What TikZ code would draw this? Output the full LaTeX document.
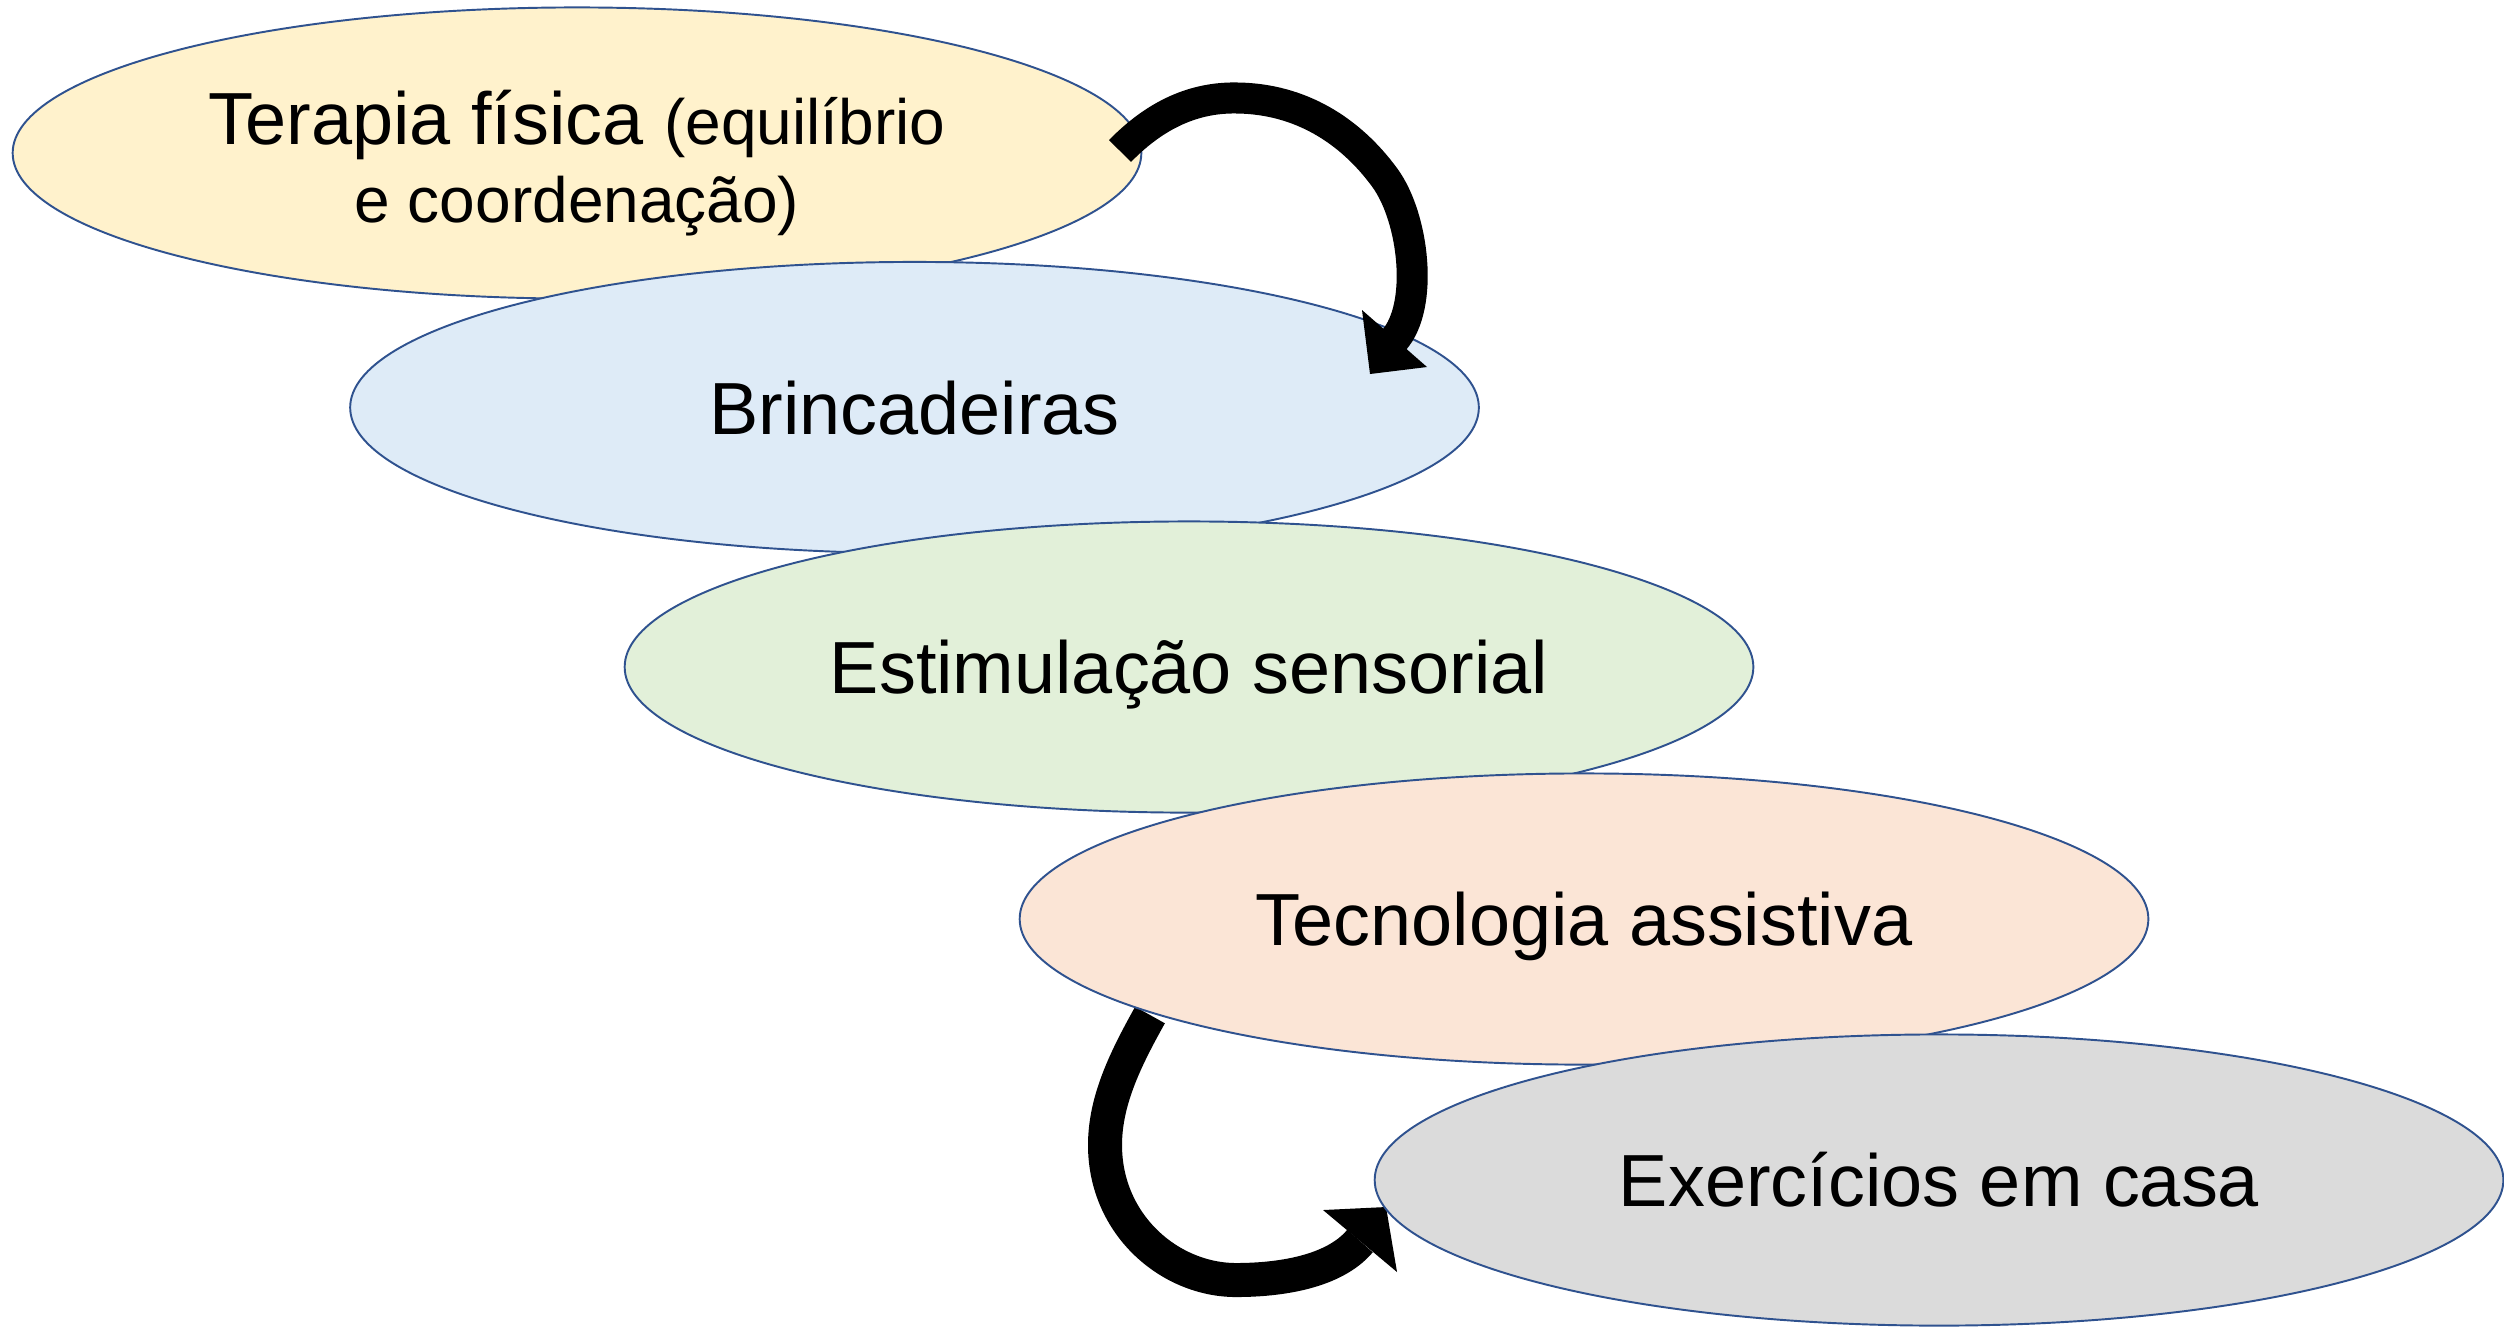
\documentclass[tikz,border=0pt]{standalone}
\usepackage{fontspec}
\setmainfont{Liberation Sans}
\usetikzlibrary{shapes.geometric}
\definecolor{cyel}{HTML}{FFF2CC}
\definecolor{cblu}{HTML}{DEEBF7}
\definecolor{cgrn}{HTML}{E2F0D9}
\definecolor{corg}{HTML}{FBE5D6}
\definecolor{cgry}{HTML}{DBDBDB}
\definecolor{cline}{HTML}{2F528F}
\begin{document}
\begin{tikzpicture}[x=0.01cm,y=-0.01cm,
  bub/.style={ellipse, draw=cline, line width=0.55pt, minimum width=11.28cm,
    minimum height=2.91cm, inner sep=0pt, text height=0.53cm, text depth=0pt,
    font=\fontsize{21}{25}\selectfont},
  txt/.style={inner sep=0pt, anchor=base},
  small/.style={font=\fontsize{18.2}{22}\selectfont},
  band/.style={draw=black, line width=0.31cm},
  head/.style={fill=black}]
\useasboundingbox (0,0) rectangle (2504,1326);

% ellipses
\node[bub, fill=cyel] (e1) at (577,153) {};
\node[txt] (t1a) at (577,144) {{\fontsize{21}{25}\selectfont Terapia física }{\fontsize{18.2}{22}\selectfont(equilíbrio}};
\node[txt, small] (t1b) at (577,222) {e coordenação)};
\node[bub, fill=cblu] (e2) at (914.5,407.5) {Brincadeiras};
\node[bub, fill=cgrn] (e3) at (1189,667) {Estimulação sensorial};

% bottom arrow (behind ellipses 4 and 5)
\coordinate (b0) at (1150,1015);
\coordinate (b1) at (1360,1241);
\draw[band, line width=0.34cm] (b0) .. controls (1126,1058) and (1105,1100) .. (1105,1145)
  .. controls (1105,1225) and (1170,1280) .. (1236,1280)
  .. controls (1280,1280) and (1334,1272) .. (b1);
\fill[head] (1323,1210) -- (1386,1207) -- (1397,1272) -- cycle;

\node[bub, fill=corg] (e4) at (1584,919) {Tecnologia assistiva};
\node[bub, fill=cgry] (e5) at (1939,1180) {Exercícios em casa};

% top arrow (on top)
\coordinate (a0) at (1120,151);
\coordinate (a1) at (1394,340);
\draw[band] (a0) .. controls (1160,110) and (1200,97) .. (1238,98)
  .. controls (1300,99) and (1350,130) .. (1385,178)
  .. controls (1414,218) and (1424,306) .. (a1);
\fill[head] (1362,310) -- (1370,374) -- (1427,367) -- cycle;
\end{tikzpicture}
\end{document}
